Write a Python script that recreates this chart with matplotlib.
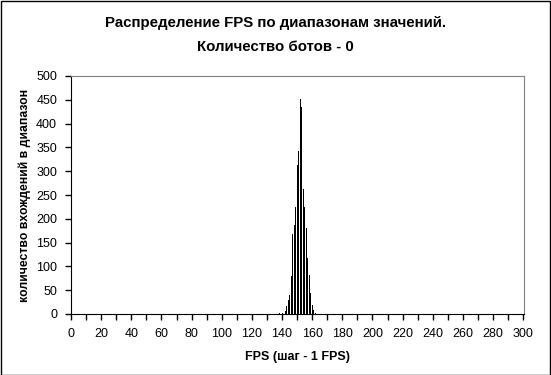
import matplotlib.pyplot as plt
from matplotlib.patches import Rectangle

plt.rcParams["font.family"] = ["Liberation Sans", "DejaVu Sans"]

# FPS bins (step 1) and number of hits; bins outside this range are 0
fps = [137, 138, 139, 140, 141, 142, 143, 144, 145, 146, 147, 148, 149, 150,
       151, 152, 153, 154, 155, 156, 157, 158, 159, 160, 161, 162, 163, 164]
counts = [0, 2, 0, 2, 0, 7, 17, 29, 40, 80, 168, 187, 225, 314,
          343, 451, 434, 263, 225, 180, 118, 82, 45, 19, 8, 2, 0, 1]

title = "Распределение FPS по диапазонам значений.\nКоличество ботов - 0"
x_label = "FPS (шаг - 1 FPS)"
y_label = "количество вхождений в диапазон"

fig = plt.figure(figsize=(5.51, 3.75), dpi=100)
ax = fig.add_axes([71 / 551, 1 - 314 / 375, (524 - 71) / 551, (314 - 76) / 375])

ax.bar(fps, counts, width=0.62, color="black", linewidth=0, zorder=3)

ax.set_xlim(0, 300.5)
ax.set_ylim(0, 500)
ax.set_xticks(range(0, 301, 20))
ax.set_xticks(range(0, 301, 10), minor=True)
ax.set_yticks(range(0, 501, 50))
ax.tick_params(axis="both", which="both", direction="out", length=4, width=1,
               labelsize=9, color="black")
ax.tick_params(axis="x", pad=6)
ax.tick_params(axis="y", pad=6)

ax.grid(axis="y", color="#b0b0b0", linestyle=(0, (4, 3)), linewidth=1, zorder=0)
for g in ax.get_ygridlines():
    if g.get_ydata()[0] in (0, 500):
        g.set_visible(False)

ax.spines["left"].set_color("black")
ax.spines["bottom"].set_color("black")
ax.spines["top"].set_color("#808080")
ax.spines["right"].set_color("#808080")

ax.set_xlabel(x_label, fontsize=9, fontweight="bold", labelpad=8)
ax.set_ylabel(y_label, fontsize=8.8, fontweight="bold", labelpad=4)
fig.text(0.5, 1 - 35 / 375, title, ha="center", va="center", fontsize=10.8,
         fontweight="bold", linespacing=1.85)

fig.patches.append(Rectangle((0.5 / 551, 0.5 / 375), 549.5 / 551, 373.5 / 375,
                             transform=fig.transFigure, fill=False,
                             edgecolor="black", linewidth=1))

fig.savefig("out.png", dpi=100)
